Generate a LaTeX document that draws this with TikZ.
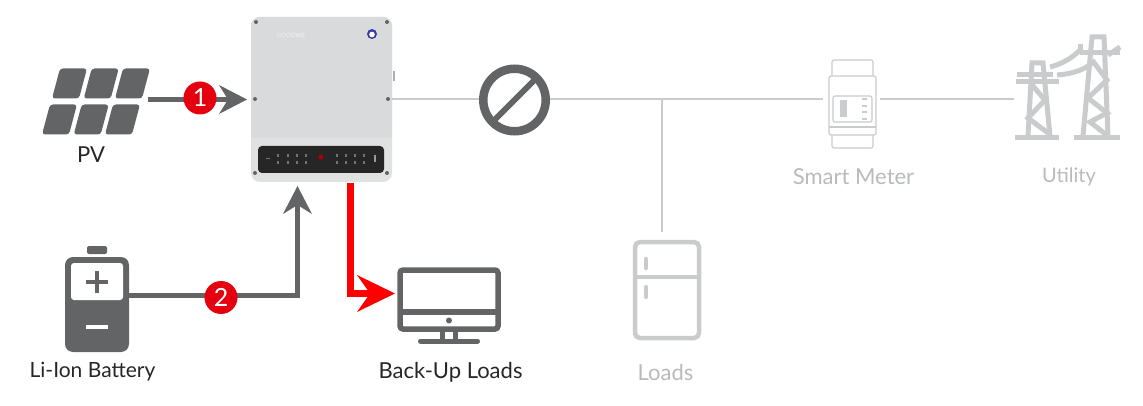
\documentclass[tikz,border=0pt]{standalone}
\usepackage{fontspec}
\setmainfont{Lato}
\usetikzlibrary{positioning}
\definecolor{icongrey}{HTML}{626466}
\definecolor{fadegrey}{HTML}{C9CBCC}
\definecolor{txtfade}{HTML}{B8BABB}
\definecolor{stopred}{HTML}{E4000F}
\definecolor{caseside}{HTML}{D9DADB}
\definecolor{caselow}{HTML}{E0E1E1}
\tikzset{
  wire/.style={draw=fadegrey,line width=2pt},
  feed/.style={draw=icongrey,line width=5.5pt},
  badge/.style={circle,fill=stopred,text=white,minimum size=33pt,inner sep=0pt,font=\fontsize{25}{25}\selectfont},
  lab/.style={font=\fontsize{22}{24}\selectfont,text=black!85,inner sep=0pt},
  labfade/.style={font=\fontsize{22}{24}\selectfont,text=txtfade,inner sep=0pt},
  screw/.style={circle,fill=icongrey,inner sep=0pt,minimum size=4pt},
}
\begin{document}
\begin{tikzpicture}[x=1pt,y=-1pt]
  \useasboundingbox (0,0) rectangle (1143,406);
  % inverter
  \node[fill=caselow,rounded corners=9pt,minimum width=141pt,minimum height=165pt,inner sep=0pt] (inverter) at (321.5,99.5) {};
  \fill[caseside,rounded corners=9pt] (251,17) rectangle (392,145);
  \fill[caselow] (251,138) rectangle (392,146);
  \node[fill=black!85,rounded corners=4pt,minimum width=126pt,minimum height=27pt,inner sep=0pt] (panel) at (321,159.5) {};
  \node[fill=stopred!75!black,circle,inner sep=0pt,minimum size=5pt] (panelled) at (321,157) {};
  \foreach \px in {278,288,297,306,337,346,355,364}{
    \fill[white!45!black] (\px-1,154) rectangle (\px+1,157);
    \fill[white!45!black] (\px-1,161) rectangle (\px+1,164);
  }
  \fill[white!45!black] (266,158) rectangle (270,159);
  \fill[white!60!black] (374,155) rectangle (376,162);
  \foreach \sx/\sy in {256/22,387/22,255/99,388/99,255/173,387/173}{
    \node[screw] at (\sx,\sy) {};
  }
  \node[font=\fontsize{6}{6}\selectfont,text=white!95!black] (brand) at (291,35) {GOODWE};
  \fill[icongrey!60!blue] (372,34) circle (5pt);
  \fill[white] (372,34.5) circle (2.8pt);
  \fill[caseside!80!black] (392.5,71) rectangle (394.5,81);
  % pv
  \foreach \cx/\cy in {60/68.5,91.7/68.5,123/68.5,50/104.5,81.7/104.5,113/104.5}{
    \fill[icongrey,rounded corners=3pt] (\cx,\cy) -- ++(27,0) -- ++(-8,30) -- ++(-27,0) -- cycle;
  }
  \node[lab] (pvtxt) at (91,155) {PV};
  % battery
  \fill[icongrey,rounded corners=2pt] (87,246) rectangle (107,254);
  \fill[icongrey,rounded corners=8pt] (65,257) rectangle (129,352);
  \fill[white,rounded corners=3pt] (71,263) -- (123,263) -- (123,300) -- (71,300) -- cycle;
  \draw[icongrey,line width=3.5pt] (97,271) -- (97,293) (86,282) -- (108,282);
  \draw[white,line width=3.5pt] (86,327) -- (108,327);
  \node[lab,font=\fontsize{21}{24}\selectfont] (battxt) at (92.5,372) {Li-Ion Battery};
  \coordinate (batout) at (129,295.5);
  % back-up loads
  \draw[icongrey,line width=5.5pt,rounded corners=3pt] (400,270) rectangle (498,329);
  \draw[icongrey,line width=5.5pt] (400,312) -- (498,312);
  \fill[icongrey] (449,320.5) circle (3pt);
  \draw[icongrey,line width=5pt] (442.5,331) -- (442.5,341) (455,331) -- (455,341);
  \draw[icongrey,line width=5pt,line cap=round] (420.5,341) -- (477.5,341);
  \node[lab] (loadtxt) at (450.5,372) {Back-Up Loads};
  % fridge
  \draw[fadegrey,line width=4.5pt,rounded corners=5pt] (635,242) rectangle (699,338);
  \draw[fadegrey,line width=4.5pt] (635,277) -- (699,277);
  \draw[fadegrey,line width=4.5pt,line cap=round] (646,259) -- (646,268) (646,287) -- (646,297);
  \node[labfade] (fridgetxt) at (665.5,372) {Loads};
  % meter
  \draw[fadegrey,line width=1.2pt,rounded corners=2pt] (832,60) rectangle (873,148);
  \draw[fadegrey,line width=1.2pt,rounded corners=2pt,fill=white] (829,76) rectangle (876,135);
  \draw[fadegrey,line width=1.2pt] (829,127) -- (876,127);
  \draw[fadegrey,line width=1.2pt,rounded corners=2pt] (833,96) rectangle (872,122);
  \fill[fadegrey] (840,100) rectangle (847,117);
  \foreach \my in {99,106,112,119}{ \fill[fadegrey] (862,\my-0.7) rectangle (867,\my+0.7); }
  \node[labfade] (metertxt) at (853.5,177) {Smart Meter};
  % utility
  \begin{scope}[fadegrey,line width=5pt]
    \draw (1015,138) -- (1059,138) (1074,138) -- (1120,138);
    \draw (1028,136) -- (1032,63) -- (1043,63) -- (1050,136);
    \draw (1032,85) -- (1045,100) -- (1028,118) -- (1048,133);
    \draw (1016,82) -- (1059,82) (1017,75) -- (1053,75);
    \draw (1083,136) -- (1092,37) -- (1104,37) -- (1108,136);
    \draw (1092,60) -- (1107,80) -- (1088,98) -- (1107,113) -- (1090,122) -- (1108,136);
    \draw (1080,53) -- (1120,53);
    \draw (1050,67) .. controls (1062,64) and (1072,58) .. (1080,50);
    \draw (1080,44) -- (1080,52);
    \draw (1057,75) .. controls (1072,74) and (1084,70) .. (1092,63);
    \draw (1108,55) -- (1120,47);
  \end{scope}
  \node[labfade,font=\fontsize{20}{24}\selectfont] (utiltxt) at (1069,177) {Utility};
  % lines
  \coordinate (invout) at (392,99);
  \coordinate (meterin) at (823,99);
  \coordinate (meterout) at (880,99);
  \coordinate (utilin) at (1014,99);
  \coordinate (tee) at (662,99);
  \coordinate (teeend) at (662,232);
  \draw[wire] (invout) -- (meterin) (meterout) -- (utilin) (tee) -- (teeend);
  % blocked sign
  \node[circle,draw=icongrey,fill=white,line width=8.5pt,minimum size=62.5pt,inner sep=0pt,outer sep=0pt] (blocked) at (514.5,100) {};
  \draw[icongrey,line width=6pt] (blocked.south west) -- (blocked.north east);
  % feeds
  \coordinate (pvout) at (148,99.5);
  \coordinate (pvin) at (236,99.5);
  \draw[feed] (pvout) -- (pvin);
  \fill[icongrey] (247,99.5) -- (219,85) -- (228,99.5) -- (219,114) -- cycle;
  \node[badge] (one) at (200,98) {1};
  \coordinate (batcorner) at (297.5,295.5);
  \coordinate (batin) at (297.5,200);
  \draw[feed,line join=miter] (batout) -- (batcorner) -- (batin);
  \fill[icongrey] (297.5,186) -- (283,214) -- (297.5,205) -- (312,214) -- cycle;
  \node[badge] (two) at (221,297.5) {2};
  \coordinate (redout) at (350,183);
  \coordinate (redcorner) at (350,293.5);
  \coordinate (redin) at (380,293.5);
  \draw[draw=red,line width=7pt] (redout) -- (redcorner) -- (redin);
  \fill[red] (395,293.5) -- (357,275) -- (370,293.5) -- (357,312) -- cycle;
\end{tikzpicture}
\end{document}
